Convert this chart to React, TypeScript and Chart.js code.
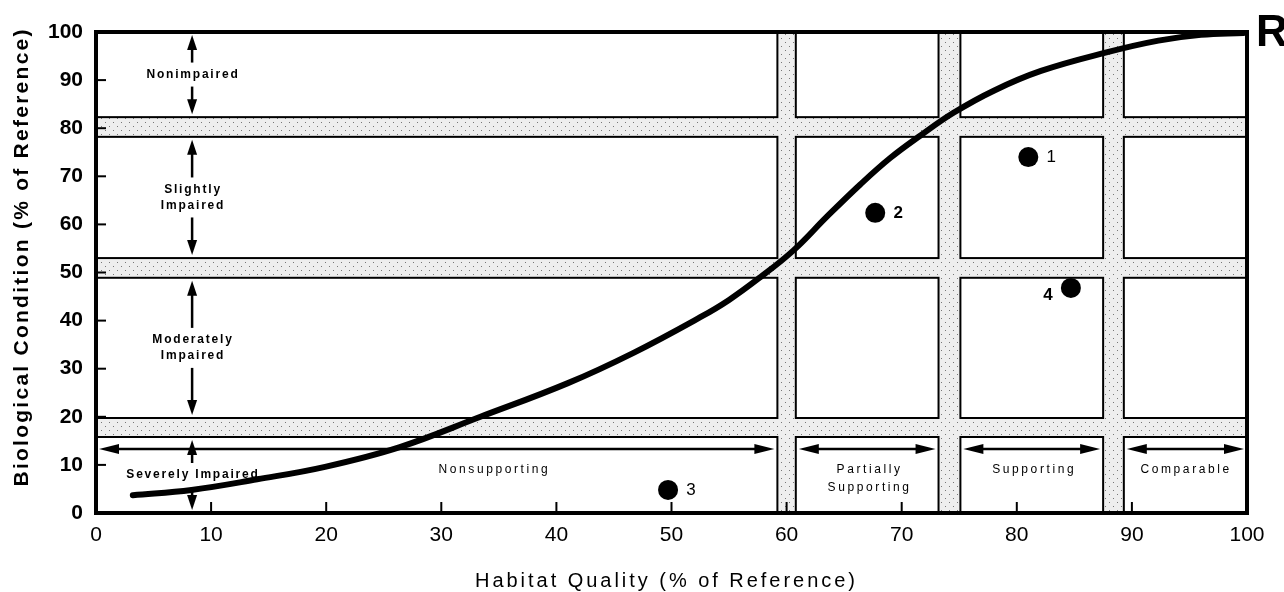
import React, { useEffect, useRef } from "react";
import { Chart, registerables } from "chart.js";

Chart.register(...registerables);

// ---------------- data ----------------
const axisTicks = [0, 10, 20, 30, 40, 50, 60, 70, 80, 90, 100];

// relationship curve (habitat quality -> biological condition)
const curveHabitat = [3.2, 8.3, 14, 19.9, 26.4, 33.4, 41, 46.7, 52.5, 55, 57.7, 60.6, 63.5, 66.4, 69, 71.7, 74.5, 78, 82.1, 87.7, 92.3, 96, 99.7];
const curveBiological = [3.7, 4.8, 7, 9.6, 13.7, 20, 27, 33.3, 40.7, 44.3, 49, 54.6, 61.6, 68.3, 73.8, 78.6, 83.2, 87.8, 91.9, 95.7, 98.2, 99.4, 99.8];

// numbered sites
const siteLabels = ["1", "2", "3", "4"];
const siteHabitat = [81.0, 67.7, 49.7, 84.7];
const siteBiological = [74.0, 62.4, 4.8, 46.8];

// shaded transition zones
const conditionBands = [
  [15.8, 19.75],
  [48.9, 53.0],
  [78.2, 82.3],
];
const habitatBands = [
  [59.2, 60.8],
  [73.2, 75.1],
  [87.5, 89.3],
];

// class names (bottom -> top, left -> right)
const conditionClasses = [["Severely Impaired"], ["Moderately", "Impaired"], ["Slightly", "Impaired"], ["Nonimpaired"]];
const useClasses = [["Nonsupporting"], ["Partially", "Supporting"], ["Supporting"], ["Comparable"]];
const useLabelHabitat = [34.5, 67.1, 81.4, 94.6];
const conditionArrowHabitat = 8.35;
const useArrowBiological = 13.3;

const xTitle = "Habitat Quality (% of Reference)";
const yTitle = "Biological Condition (% of Reference)";
const cornerMark = "R";

// ---------------- drawing helpers ----------------
const FONT = '"Liberation Sans", Arial, Helvetica, sans-serif';

function ranges(bands: number[][]): number[][] {
  const edges = [0];
  bands.forEach((b) => edges.push(b[0], b[1]));
  edges.push(100);
  const out: number[][] = [];
  for (let i = 0; i < edges.length; i += 2) out.push([edges[i], edges[i + 1]]);
  return out;
}

function spacedText(ctx: CanvasRenderingContext2D, text: string, cx: number, cy: number, spacing: number) {
  const chars = Array.from(text);
  const widths = chars.map((c) => ctx.measureText(c).width);
  const total = widths.reduce((a, b) => a + b, 0) + spacing * (chars.length - 1);
  let x = cx - total / 2;
  ctx.textAlign = "left";
  chars.forEach((c, i) => {
    ctx.fillText(c, x, cy);
    x += widths[i] + spacing;
  });
}

function fitSpacing(ctx: CanvasRenderingContext2D, text: string, target: number) {
  const chars = Array.from(text);
  const w = chars.reduce((s, c) => s + ctx.measureText(c).width, 0);
  return (target - w) / (chars.length - 1);
}

function head(ctx: CanvasRenderingContext2D, tx: number, ty: number, dx: number, dy: number, len: number, half: number) {
  const bx = tx - dx * len;
  const by = ty - dy * len;
  const nx = -dy;
  const ny = dx;
  ctx.beginPath();
  ctx.moveTo(tx, ty);
  ctx.lineTo(bx + nx * half, by + ny * half);
  ctx.lineTo(bx - nx * half, by - ny * half);
  ctx.closePath();
  ctx.fill();
}

function arrow(ctx: CanvasRenderingContext2D, x0: number, y0: number, x1: number, y1: number, len: number, half: number, both = false) {
  const d = Math.hypot(x1 - x0, y1 - y0) || 1;
  const dx = (x1 - x0) / d;
  const dy = (y1 - y0) / d;
  ctx.beginPath();
  ctx.moveTo(both ? x0 + dx * len * 0.8 : x0, both ? y0 + dy * len * 0.8 : y0);
  ctx.lineTo(x1 - dx * len * 0.8, y1 - dy * len * 0.8);
  ctx.stroke();
  head(ctx, x1, y1, dx, dy, len, half);
  if (both) head(ctx, x0, y0, -dx, -dy, len, half);
}

function bandPattern(ctx: CanvasRenderingContext2D) {
  const c = document.createElement("canvas");
  c.width = 8;
  c.height = 8;
  const g = c.getContext("2d");
  if (!g) return "#ececec";
  g.fillStyle = "#eeeeee";
  g.fillRect(0, 0, 8, 8);
  g.fillStyle = "#777777";
  g.fillRect(1, 2, 1, 1);
  g.fillRect(5, 6, 1, 1);
  return ctx.createPattern(c, "repeat") || "#ececec";
}

const paperPlugin = {
  id: "paper",
  beforeDatasetsDraw(chart: any) {
    const { ctx, chartArea: a } = chart;
    const xs = chart.scales.x;
    const ys = chart.scales.y;
    const px = (v: number) => xs.getPixelForValue(v);
    const py = (v: number) => ys.getPixelForValue(v);
    ctx.save();

    // gutters
    ctx.fillStyle = bandPattern(ctx);
    ctx.fillRect(a.left, a.top, a.right - a.left, a.bottom - a.top);

    // white cells
    ctx.strokeStyle = "#000";
    ctx.lineWidth = 2;
    for (const [x0, x1] of ranges(habitatBands)) {
      for (const [y0, y1] of ranges(conditionBands)) {
        const L = px(x0), R = px(x1), T = py(y1), B = py(y0);
        ctx.fillStyle = "#fff";
        ctx.fillRect(L, T, R - L, B - T);
        ctx.strokeRect(L, T, R - L, B - T);
      }
    }

    // inner tick marks
    ctx.lineWidth = 2;
    axisTicks.slice(1, -1).forEach((v) => {
      ctx.beginPath();
      ctx.moveTo(px(v), a.bottom);
      ctx.lineTo(px(v), a.bottom - 11);
      ctx.stroke();
      ctx.beginPath();
      ctx.moveTo(a.left, py(v));
      ctx.lineTo(a.left + 10, py(v));
      ctx.stroke();
    });

    // frame
    ctx.lineWidth = 4;
    ctx.strokeRect(a.left, a.top, a.right - a.left, a.bottom - a.top);

    // biological condition classes (vertical arrows)
    ctx.fillStyle = "#000";
    ctx.lineWidth = 2.5;
    ctx.textBaseline = "middle";
    ctx.font = `bold 12px ${FONT}`;
    const ax = px(conditionArrowHabitat);
    ranges(conditionBands).forEach(([lo, hi], i) => {
      const lines = conditionClasses[i];
      const top = py(hi), bot = py(lo);
      const yc = (top + bot) / 2;
      const half = 12 + (lines.length - 1) * 8;
      lines.forEach((t, k) => spacedText(ctx, t, ax, yc + (k - (lines.length - 1) / 2) * 16, 1.8));
      arrow(ctx, ax, yc - half, ax, top + 3, 15, 5);
      arrow(ctx, ax, yc + half, ax, bot - 3, 15, 5);
    });

    // aquatic life use classes (horizontal arrows)
    ctx.font = `12px ${FONT}`;
    const ay = py(useArrowBiological);
    ranges(habitatBands).forEach(([x0, x1], i) => {
      arrow(ctx, px(x0) + 3, ay, px(x1) - 3, ay, 20, 5, true);
      const lines = useClasses[i];
      lines.forEach((t, k) => spacedText(ctx, t, px(useLabelHabitat[i]), ay + 21 + k * 18, 2.6));
    });

    ctx.restore();
  },
  afterDatasetsDraw(chart: any) {
    const { ctx } = chart;
    const xs = chart.scales.x;
    const ys = chart.scales.y;
    ctx.save();
    ctx.fillStyle = "#000";
    ctx.textBaseline = "middle";
    const weights = ["normal", "bold", "normal", "bold"];
    const side = [1, 1, 1, -1];
    siteLabels.forEach((t, i) => {
      ctx.font = `${weights[i]} 17px ${FONT}`;
      ctx.textAlign = "center";
      const x = xs.getPixelForValue(siteHabitat[i]) + side[i] * 23;
      const y = ys.getPixelForValue(siteBiological[i]) + (side[i] < 0 ? 7 : 0);
      ctx.fillText(t, x, y);
    });
    ctx.restore();
  },
  afterDraw(chart: any) {
    const { ctx } = chart;
    ctx.save();
    ctx.fillStyle = "#000";
    ctx.textBaseline = "middle";

    // x title
    ctx.font = `20px ${FONT}`;
    spacedText(ctx, xTitle, 665, 581, fitSpacing(ctx, xTitle, 380));

    // y title
    ctx.font = `bold 21px ${FONT}`;
    const sp = fitSpacing(ctx, yTitle, 457);
    ctx.translate(22, 258);
    ctx.rotate(-Math.PI / 2);
    spacedText(ctx, yTitle, 0, 0, sp);
    ctx.setTransform(1, 0, 0, 1, 0, 0);

    // corner letter
    ctx.font = `bold 44px ${FONT}`;
    ctx.textAlign = "left";
    ctx.textBaseline = "alphabetic";
    ctx.fillText(cornerMark, 1256, 46);
    ctx.restore();
  },
};

export default function App() {
  const ref = useRef<HTMLCanvasElement | null>(null);

  useEffect(() => {
    if (!ref.current) return;
    const chart = new Chart(ref.current, {
      type: "scatter",
      data: {
        datasets: [
          {
            type: "scatter",
            label: "Sites",
            data: siteHabitat.map((x, i) => ({ x, y: siteBiological[i] })),
            pointRadius: 10,
            pointHoverRadius: 10,
            backgroundColor: "#000",
            borderWidth: 0,
          },
          {
            type: "line",
            label: "Curve",
            data: curveHabitat.map((x, i) => ({ x, y: curveBiological[i] })),
            borderColor: "#000",
            borderWidth: 6,
            pointRadius: 0,
            tension: 0.4,
            borderCapStyle: "round",
            borderJoinStyle: "round",
            fill: false,
          } as any,
        ],
      },
      options: {
        animation: false,
        responsive: true,
        maintainAspectRatio: false,
        events: [],
        layout: { padding: { left: 0, right: 37, top: 32, bottom: 0 } },
        plugins: { legend: { display: false }, tooltip: { enabled: false } },
        scales: {
          x: {
            type: "linear",
            min: 0,
            max: 100,
            afterFit: (s: any) => {
              s.height = 79;
            },
            afterBuildTicks: (s: any) => {
              s.ticks = axisTicks.map((v) => ({ value: v }));
            },
            grid: { display: false, drawTicks: false },
            border: { display: false },
            ticks: { color: "#000", padding: 10, maxRotation: 0, font: { family: FONT, size: 21 } },
          },
          y: {
            type: "linear",
            min: 0,
            max: 100,
            afterFit: (s: any) => {
              s.width = 96;
            },
            afterBuildTicks: (s: any) => {
              s.ticks = axisTicks.map((v) => ({ value: v }));
            },
            grid: { display: false, drawTicks: false },
            border: { display: false },
            ticks: { color: "#000", padding: 13, font: { family: FONT, size: 21, weight: "bold" } },
          },
        },
      },
      plugins: [paperPlugin],
    });
    return () => chart.destroy();
  }, []);

  return (
    <div style={{ position: "absolute", left: 0, top: 0, width: 1284, height: 592, background: "#fff" }}>
      <canvas ref={ref} />
    </div>
  );
}
